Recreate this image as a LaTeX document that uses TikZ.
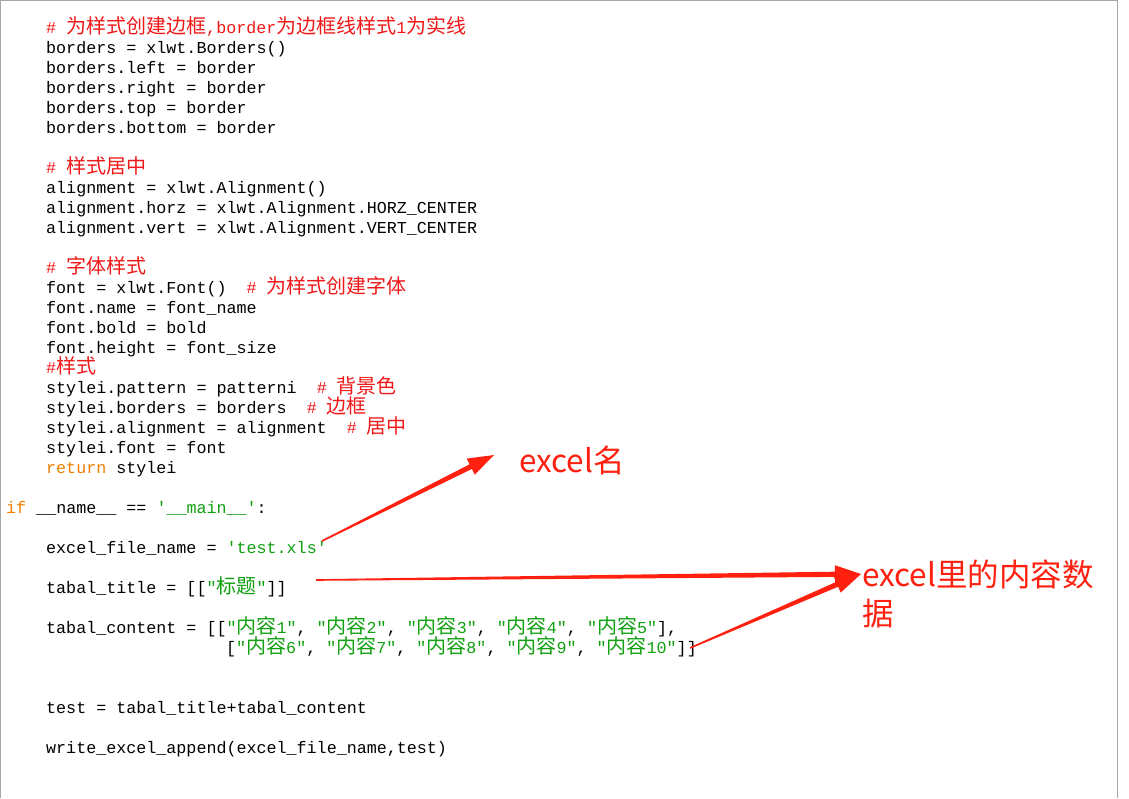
\documentclass[tikz,border=0pt]{standalone}
\usepackage{fontspec}
\setmonofont{Liberation Mono}
\newfontfamily\cjk{Noto Sans CJK SC}
\usetikzlibrary{calc}
\definecolor{cmt}{HTML}{F01818}
\definecolor{str}{HTML}{10A010}
\definecolor{kw}{HTML}{F08000}
\definecolor{arr}{HTML}{FF2010}
\newcommand\C[1]{{\cjk\fontsize{20}{20}\selectfont #1}}
\newcommand\tarrow[3]{%
  \coordinate (#3n) at ($(#2)!26pt!(#1)$);
  \fill[arr] ($(#1)!0.8pt!90:(#2)$) -- ($(#3n)!2.6pt!90:(#2)$) -- ($(#3n)!9pt!90:(#2)$) -- (#2) -- ($(#3n)!9pt!-90:(#2)$) -- ($(#3n)!2.6pt!-90:(#2)$) -- ($(#1)!0.8pt!-90:(#2)$) -- cycle;}
\begin{document}
\begin{tikzpicture}[x=1pt,y=-1pt,
  code/.style={anchor=base west,inner sep=0pt,font=\ttfamily\fontsize{16.7}{20}\selectfont},
  lab/.style={anchor=base west,inner sep=0pt,text=arr,font=\cjk\fontsize{31.5}{36}\selectfont}]
\useasboundingbox (0,0) rectangle (1129,798);
\fill[white] (0,0) rectangle (1129,798);
\draw[gray!70,line width=1pt] (0.5,798) -- (0.5,0.5) -- (1117,0.5) -- (1117,798);
\node[code,text=cmt] (l0) at (46,33) {\# \C{为样式创建边框},border\C{为边框线样式}1\C{为实线}};
\node[code] (l1) at (46,53) {borders = xlwt.Borders()};
\node[code] (l2) at (46,73) {borders.left = border};
\node[code] (l3) at (46,93) {borders.right = border};
\node[code] (l4) at (46,113) {borders.top = border};
\node[code] (l5) at (46,133) {borders.bottom = border};
\node[code,text=cmt] (l7) at (46,173) {\# \C{样式居中}};
\node[code] (l8) at (46,193) {alignment = xlwt.Alignment()};
\node[code] (l9) at (46,213) {alignment.horz = xlwt.Alignment.HORZ\_CENTER};
\node[code] (l10) at (46,233) {alignment.vert = xlwt.Alignment.VERT\_CENTER};
\node[code,text=cmt] (l12) at (46,273) {\# \C{字体样式}};
\node[code] (l13) at (46,293) {font = xlwt.Font()\ \ \textcolor{cmt}{\# \C{为样式创建字体}}};
\node[code] (l14) at (46,313) {font.name = font\_name};
\node[code] (l15) at (46,333) {font.bold = bold};
\node[code] (l16) at (46,353) {font.height = font\_size};
\node[code,text=cmt] (l17) at (46,373) {\#\C{样式}};
\node[code] (l18) at (46,393) {stylei.pattern = patterni\ \ \textcolor{cmt}{\# \C{背景色}}};
\node[code] (l19) at (46,413) {stylei.borders = borders\ \ \textcolor{cmt}{\# \C{边框}}};
\node[code] (l20) at (46,433) {stylei.alignment = alignment\ \ \textcolor{cmt}{\# \C{居中}}};
\node[code] (l21) at (46,453) {stylei.font = font};
\node[code] (l22) at (46,473) {\textcolor{kw}{return} stylei};
\node[code] (l24) at (6,513) {\textcolor{kw}{if} \_\_name\_\_ == \textcolor{str}{'\_\_main\_\_'}:};
\node[code] (l26) at (46,553) {excel\_file\_name = \textcolor{str}{'test.xls'}};
\node[code] (l28) at (46,593) {tabal\_title = [[\textcolor{str}{"\C{标题}"}]]};
\node[code] (l30) at (46,633) {tabal\_content = [[\textcolor{str}{"\C{内容}1"}, \textcolor{str}{"\C{内容}2"}, \textcolor{str}{"\C{内容}3"}, \textcolor{str}{"\C{内容}4"}, \textcolor{str}{"\C{内容}5"}],};
\node[code] (l31) at (226,653) {[\textcolor{str}{"\C{内容}6"}, \textcolor{str}{"\C{内容}7"}, \textcolor{str}{"\C{内容}8"}, \textcolor{str}{"\C{内容}9"}, \textcolor{str}{"\C{内容}10"}]]};
\node[code] (l34) at (46,713) {test = tabal\_title+tabal\_content};
\node[code] (l36) at (46,753) {write\_excel\_append(excel\_file\_name,test)};
\node[lab] (t1) at (519,472) {excel名};
\node[lab] (t2) at (862,586) {excel里的内容数};
\node[lab] (t3) at (862,625) {据};
\coordinate (a1s) at (322,541);
\coordinate (a1e) at (494,455);
\coordinate (a2s) at (316,580);
\coordinate (a2e) at (861,574);
\coordinate (a3s) at (690,648);
\tarrow{a1s}{a1e}{p}
\tarrow{a2s}{a2e}{q}
\tarrow{a3s}{a2e}{r}
\end{tikzpicture}
\end{document}
